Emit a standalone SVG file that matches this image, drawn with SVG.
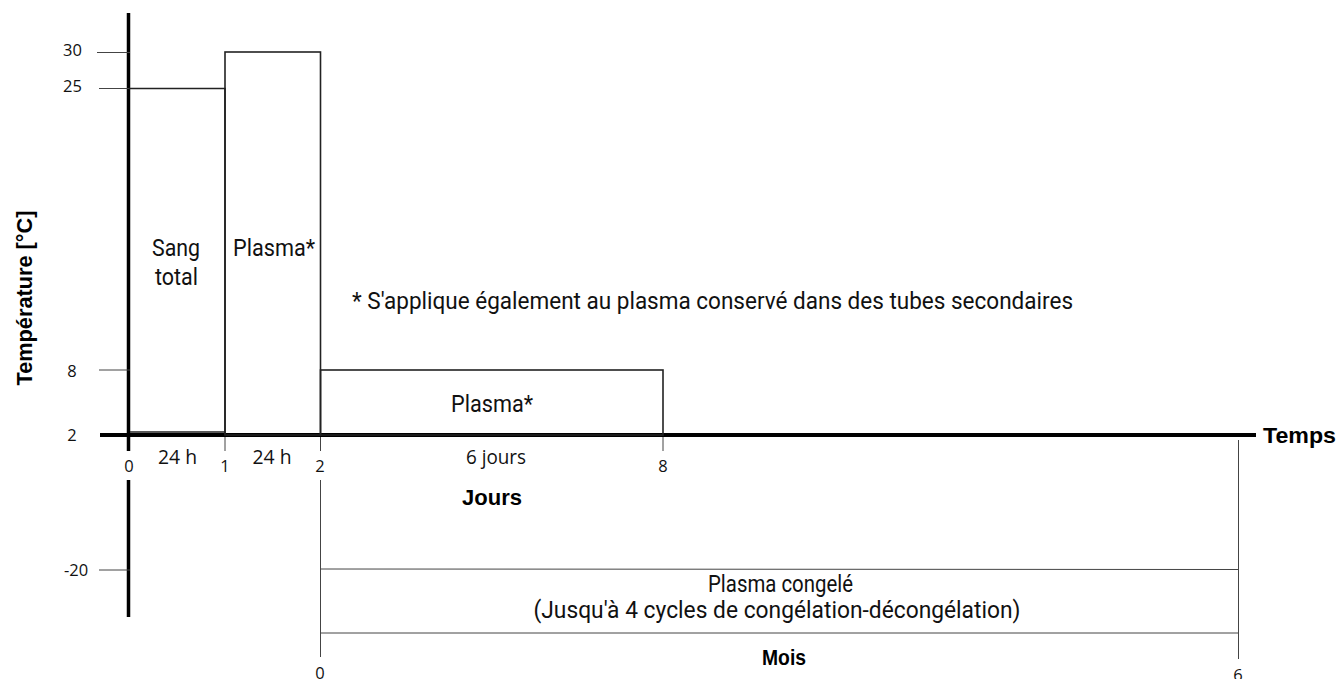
<svg xmlns="http://www.w3.org/2000/svg" width="1340" height="679" viewBox="0 0 1340 679">
<style>
.t{font-family:Roboto,"Liberation Sans",sans-serif;font-size:23.5px;fill:#111}
.n{font-family:"Open Sans","DejaVu Sans",sans-serif;font-size:16.5px;fill:#111}
.m{font-family:"Open Sans","DejaVu Sans",sans-serif;font-size:20px;fill:#111}
.b{font-family:"Liberation Sans",Arial,sans-serif;font-size:21.5px;font-weight:bold;fill:#000}
.thin{stroke:#222;stroke-width:1.3;fill:none}
.box{stroke:#222;stroke-width:1.6;fill:none}
.tick{stroke:#444;stroke-width:1;fill:none}
</style>
<rect width="1340" height="679" fill="#fff"/>
<g id="axes">
<line x1="128.5" y1="13" x2="128.5" y2="451" stroke="#000" stroke-width="3.5"/>
<line x1="128.5" y1="480" x2="128.5" y2="617" stroke="#000" stroke-width="3.5"/>
<line x1="100" y1="435" x2="1256" y2="435" stroke="#000" stroke-width="4"/>
<line x1="97" y1="52.5" x2="130" y2="52.5" class="tick"/>
<line x1="99" y1="88.5" x2="130" y2="88.5" class="tick"/>
<line x1="99" y1="370" x2="130" y2="370" class="tick"/>
<line x1="99" y1="570" x2="130" y2="570" class="tick"/>
<text class="n" x="72.5" y="56" text-anchor="middle">30</text>
<text class="n" x="72.5" y="92" text-anchor="middle">25</text>
<text class="n" x="72" y="377" text-anchor="middle">8</text>
<text class="n" x="72" y="441" text-anchor="middle">2</text>
<text class="n" x="76" y="576" text-anchor="middle">-20</text>
<text class="b" transform="translate(32,298) rotate(-90)" text-anchor="middle" textLength="175" lengthAdjust="spacingAndGlyphs">Température [°C]</text>
<text class="b" x="1263" y="443" textLength="73" lengthAdjust="spacingAndGlyphs">Temps</text>
</g>
<g id="sang-total">
<polyline class="box" points="129,88.5 225,88.5 225,435"/>
<line x1="130" y1="432" x2="225" y2="432" class="thin"/>
<text class="t" x="176" y="256" text-anchor="middle" textLength="48" lengthAdjust="spacingAndGlyphs">Sang</text>
<text class="t" x="176.5" y="285" text-anchor="middle" textLength="43" lengthAdjust="spacingAndGlyphs">total</text>
</g>
<g id="plasma-ambient">
<rect class="box" x="225" y="52" width="95.5" height="383"/>
<text class="t" x="274" y="256" text-anchor="middle" textLength="82" lengthAdjust="spacingAndGlyphs">Plasma*</text>
</g>
<g id="note">
<text class="t" x="352" y="309" textLength="721" lengthAdjust="spacingAndGlyphs">* S'applique également au plasma conservé dans des tubes secondaires</text>
</g>
<g id="plasma-fridge">
<rect class="box" x="320.5" y="370" width="342.5" height="65"/>
<text class="t" x="492" y="412" text-anchor="middle" textLength="82" lengthAdjust="spacingAndGlyphs">Plasma*</text>
</g>
<g id="days-axis">
<line x1="225" y1="437" x2="225" y2="451" class="tick"/>
<line x1="320.5" y1="437" x2="320.5" y2="451" class="tick"/>
<line x1="663" y1="437" x2="663" y2="451" class="tick"/>
<text class="n" x="129" y="472" text-anchor="middle">0</text>
<text class="n" x="225" y="472" text-anchor="middle">1</text>
<text class="n" x="320" y="472" text-anchor="middle">2</text>
<text class="n" x="663" y="472" text-anchor="middle">8</text>
<text class="m" x="177.5" y="464" text-anchor="middle" textLength="39" lengthAdjust="spacingAndGlyphs">24 h</text>
<text class="m" x="272" y="464" text-anchor="middle" textLength="39" lengthAdjust="spacingAndGlyphs">24 h</text>
<text class="m" x="496" y="464" text-anchor="middle" textLength="60" lengthAdjust="spacingAndGlyphs">6 jours</text>
<text class="b" x="492" y="505" text-anchor="middle" textLength="60" lengthAdjust="spacingAndGlyphs">Jours</text>
</g>
<g id="plasma-frozen">
<line x1="320.5" y1="480" x2="320.5" y2="657" class="tick"/>
<line x1="1238.5" y1="440" x2="1238.5" y2="659" class="tick"/>
<line x1="320" y1="569" x2="1239" y2="569.5" class="tick"/>
<line x1="320" y1="633" x2="1239" y2="633" class="tick"/>
<text class="t" x="780.5" y="592" text-anchor="middle" textLength="145" lengthAdjust="spacingAndGlyphs">Plasma congelé</text>
<text class="t" x="777" y="618" text-anchor="middle" textLength="487" lengthAdjust="spacingAndGlyphs">(Jusqu'à 4 cycles de congélation-décongélation)</text>
<text class="b" x="784" y="665" text-anchor="middle" textLength="44" lengthAdjust="spacingAndGlyphs">Mois</text>
<text class="n" x="320" y="679" text-anchor="middle">0</text>
<text class="n" x="1238" y="681" text-anchor="middle">6</text>
</g>
</svg>
